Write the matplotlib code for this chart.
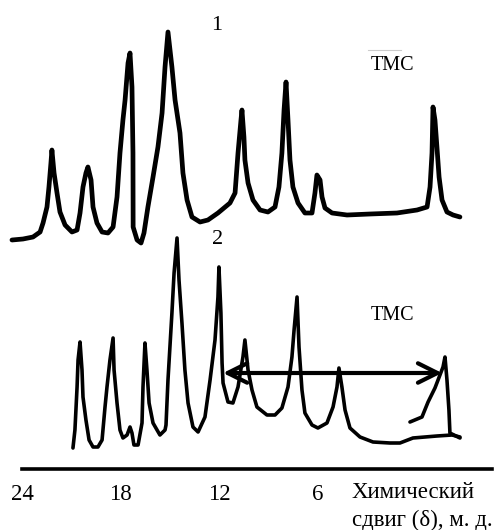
import matplotlib.pyplot as plt

plt.rcParams['font.family'] = ['Liberation Serif', 'DejaVu Serif']

# spectrum 1 (upper trace), chemical shift in ppm and intensity
shift1 = [24.61, 23.94, 23.33, 22.90, 22.72, 22.48, 22.36, 22.24, 22.18, 22.05,
          21.87, 21.69, 21.38, 20.96, 20.65, 20.47, 20.29, 20.11, 19.99, 19.80,
          19.68, 19.44, 19.13, 18.77, 18.46, 18.22, 18.04, 17.86, 17.73, 17.55,
          17.43, 17.31, 17.25, 17.24, 17.00, 16.76, 16.58, 16.34, 16.03, 15.73,
          15.48, 15.30, 15.12, 14.88, 14.69, 14.39, 14.21, 13.96, 13.66, 13.17,
          12.69, 12.08, 11.35, 11.04, 10.86, 10.68, 10.62, 10.50, 10.44, 10.25,
          9.95, 9.52, 9.04, 8.61, 8.37, 8.19, 8.06, 7.94, 7.82, 7.70,
          7.52, 7.21, 6.79, 6.36, 6.18, 6.06, 5.87, 5.75, 5.57, 5.14,
          4.23, 2.83, 1.19, -0.03, -0.64, -0.82, -0.94, -1.00, -1.12, -1.24,
          -1.37, -1.55, -1.85, -2.22, -2.64]
inten1 = [22.9, 23.0, 23.2, 23.7, 24.6, 26.2, 28.2, 30.6, 31.9, 29.6,
          27.6, 25.7, 24.4, 23.7, 23.9, 25.6, 28.2, 29.6, 30.2, 28.9,
          26.2, 24.6, 23.7, 23.6, 24.2, 27.2, 31.6, 34.9, 36.9, 40.6,
          41.6, 38.2, 31.6, 24.2, 22.9, 22.6, 23.6, 26.2, 29.2, 32.2,
          35.6, 40.2, 43.7, 40.2, 36.9, 33.6, 29.6, 26.9, 25.2, 24.7,
          24.9, 25.6, 26.6, 27.6, 31.6, 34.9, 35.9, 33.2, 30.9, 28.6,
          26.9, 25.9, 25.7, 26.2, 28.2, 31.6, 35.9, 38.7, 34.9, 30.9,
          28.2, 26.6, 25.6, 25.6, 27.6, 29.4, 28.9, 27.2, 26.1, 25.6,
          25.4, 25.5, 25.6, 25.9, 26.2, 28.2, 31.6, 36.2, 34.9, 32.2,
          29.2, 26.9, 25.7, 25.4, 25.2]

# spectrum 2 (lower trace)
shift2 = [20.90, 20.78, 20.65, 20.59, 20.47, 20.35, 20.29, 20.11, 19.92, 19.68,
          19.38, 19.13, 18.95, 18.83, 18.65, 18.46, 18.40, 18.22, 18.04, 17.86,
          17.61, 17.43, 17.31, 17.19, 16.94, 16.70, 16.64, 16.52, 16.40, 16.27,
          16.03, 15.61, 15.30, 15.24, 15.12, 14.88, 14.75, 14.57, 14.45, 14.27,
          14.09, 13.90, 13.60, 13.29, 12.87, 12.56, 12.26, 12.08, 12.02, 11.90,
          11.83, 11.77, 11.47, 11.17, 10.86, 10.56, 10.44, 10.25, 10.01, 9.71,
          9.10, 8.61, 8.19, 7.82, 7.58, 7.45, 7.27, 7.15, 6.97, 6.79,
          6.36, 6.00, 5.45, 5.08, 4.84, 4.72, 4.54, 4.35, 4.05, 3.44,
          2.65, 1.62, 1.01, 0.22, -1.24, -2.16, -2.64]
inten2 = [2.1, 3.9, 8.2, 10.9, 12.7, 9.9, 7.2, 4.9, 2.9, 2.2,
          2.2, 2.9, 6.2, 8.2, 10.9, 13.1, 9.9, 6.6, 3.9, 3.1,
          3.4, 4.2, 3.6, 2.4, 2.4, 4.6, 8.2, 12.6, 9.9, 6.6,
          4.6, 3.4, 3.9, 4.4, 8.9, 15.6, 19.6, 23.1, 18.9, 14.6,
          9.9, 6.6, 4.2, 3.7, 5.2, 8.9, 12.9, 17.2, 20.2, 15.6,
          10.6, 8.6, 6.7, 6.6, 8.2, 11.2, 12.9, 9.9, 7.9, 6.2,
          5.4, 5.4, 6.1, 8.2, 11.2, 13.9, 17.2, 12.2, 7.9, 5.6,
          4.4, 4.1, 4.6, 6.2, 8.2, 10.1, 8.2, 5.9, 4.1, 3.2,
          2.7, 2.6, 2.6, 3.1, 3.3, 3.4, 3.2]

# hand-drawn TMS peak of spectrum 2
shift_tms = [0.40, -0.33, -0.70, -1.12, -1.61, -1.73, -1.85, -1.97, -2.03, -2.64]
inten_tms = [4.7, 5.2, 6.7, 8.1, 10.2, 11.2, 8.9, 5.9, 3.6, 3.1]

tick_values = [24, 18, 12, 6]

fig = plt.figure(figsize=(4.99, 5.30), dpi=100)
ax = fig.add_axes([0, 0, 1, 1])
ax.set_xlim(25.338, -5.015)
ax.set_ylim(-6.1, 46.9)
ax.axis('off')

ax.plot(shift1, inten1, color='black', lw=3.4, solid_joinstyle='round', solid_capstyle='round')
ax.plot(shift2, inten2, color='black', lw=2.6, solid_joinstyle='round', solid_capstyle='round')
ax.plot(shift_tms, inten_tms, color='black', lw=2.6, solid_joinstyle='round', solid_capstyle='round')

# double arrow between 12 ppm peak and TMS
ax.annotate('', xy=(-1.55, 9.6), xytext=(11.77, 9.6),
            arrowprops=dict(arrowstyle='<->,head_length=0.7,head_width=0.35',
                            lw=3, color='black', mutation_scale=20,
                            shrinkA=0, shrinkB=0))

# axis line
ax.plot([24, -4.59], [0, 0], color='black', lw=2.6)
for v in tick_values:
    ax.text(v, -2.6, str(v), ha='center', va='center', fontsize=16.5)
ax.text(3.93, -2.3, 'Химический', ha='left', va='center', fontsize=16.5)
ax.text(3.93, -5.1, 'сдвиг (δ), м. д.', ha='left', va='center', fontsize=16.5)

ax.text(12.14, 44.4, '1', ha='center', va='center', fontsize=16)
ax.text(12.08, 22.9, '2', ha='center', va='center', fontsize=16)
ax.text(1.49, 40.4, 'TMC', ha='center', va='center', fontsize=14.5)
ax.text(1.49, 15.4, 'TMC', ha='center', va='center', fontsize=14.5)
ax.plot([2.94, 0.96], [41.9, 41.9], color='#cccccc', lw=0.8)

fig.savefig('out.png', dpi=100)
